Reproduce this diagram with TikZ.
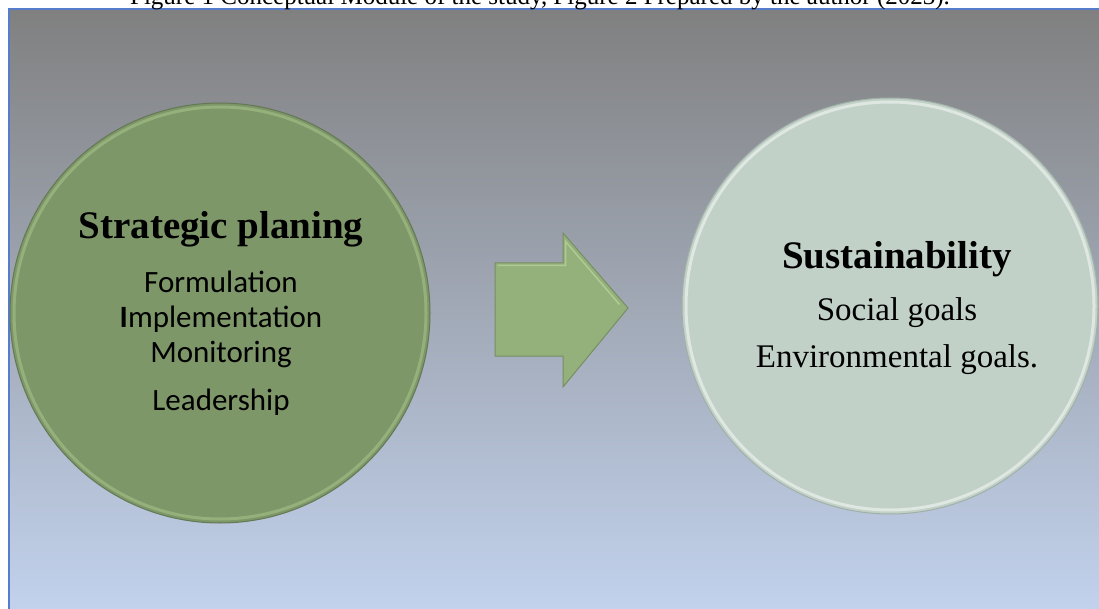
\documentclass[tikz,border=0pt]{standalone}
\usepackage{fontspec}
\setmainfont{Liberation Serif}
\newfontfamily\calibri{Carlito}
\definecolor{bgtop}{RGB}{128,128,128}
\definecolor{bgbottom}{RGB}{194,210,237}
\definecolor{frameblue}{RGB}{88,124,204}
\definecolor{planfill}{RGB}{126,151,105}
\definecolor{planrim}{RGB}{150,176,124}
\definecolor{planedge}{RGB}{100,120,84}
\definecolor{sustfill}{RGB}{194,209,199}
\definecolor{sustrim}{RGB}{222,231,226}
\definecolor{sustedge}{RGB}{160,176,168}
\definecolor{arrowfill}{RGB}{149,177,123}
\definecolor{arrowrim}{RGB}{176,202,150}
\definecolor{arrowedge}{RGB}{118,142,98}
\tikzset{
    every node/.style = {
        inner sep = 0pt,
        outer sep = 0pt
    },
    disc/.style = {
        circle,
        minimum size = #1,
        line width = 1pt
    },
    title/.style = {
        anchor = base,
        font = \fontsize{39}{39}\selectfont\bfseries
    },
    item/.style = {
        anchor = base,
        font = \calibri\fontsize{31}{31}\selectfont
    },
    goal/.style = {
        anchor = base,
        font = \fontsize{33}{33}\selectfont
    },
    blockarrow/.style = {
        fill = arrowfill,
        draw = arrowedge,
        line width = 1pt,
        line join = miter
    }
}

\begin{document}
\begin{tikzpicture}[x=1pt, y=-1pt]
    \useasboundingbox (0,0) rectangle (1099,609);
    % background panel
    \fill[top color=bgtop, bottom color=bgbottom] (9,9.5) rectangle (1100,610);
    \draw[frameblue, line width=2pt] (9,610) -- (9,9.5) -- (1100,9.5);
    \node (caption) at (540,5) [anchor=base, font=\fontsize{25}{25}\selectfont]
        {Figure 1 Conceptual Module of the study, Figure 2 Prepared by the author (2023).};
    % circles
    \node (plan) at (220,313) [disc=420pt, fill=planfill, draw=planedge]{};
    \draw[planrim, line width=3pt] (plan.center) circle (206);
    \node (sust) at (890,306) [disc=416pt, fill=sustfill, draw=sustedge]{};
    \draw[sustrim, line width=3pt] (sust.center) circle (204);
    % block arrow
    \coordinate (link) at (495,309.5);
    \draw[blockarrow] (link) ++(0,-46.5) -- ++(68,0) -- ++(0,-30)
        -- ++(65,75) -- ++(-65,79) -- ++(0,-31) -- ++(-68,0) -- cycle;
    \draw[arrowrim, line width=1.5pt] (link) ++(2.5,-44) -- ++(68,0) -- ++(0,-24)
        -- ++(54,63);
    % texts
    \node (plantitle) at (221,239) [title]{Strategic planing};
    \node (form) at (221,292) [item]{Formulation};
    \node (impl) at (221,327) [item]{\textbf{I}mplementation};
    \node (moni) at (221,362) [item]{Monitoring};
    \node (lead) at (221,410) [item]{Leadership};
    \node (susttitle) at (897,269) [title]{Sustainability};
    \node (social) at (897,320) [goal]{Social goals};
    \node (env) at (897,367) [goal]{Environmental goals.};
\end{tikzpicture}
\end{document}
